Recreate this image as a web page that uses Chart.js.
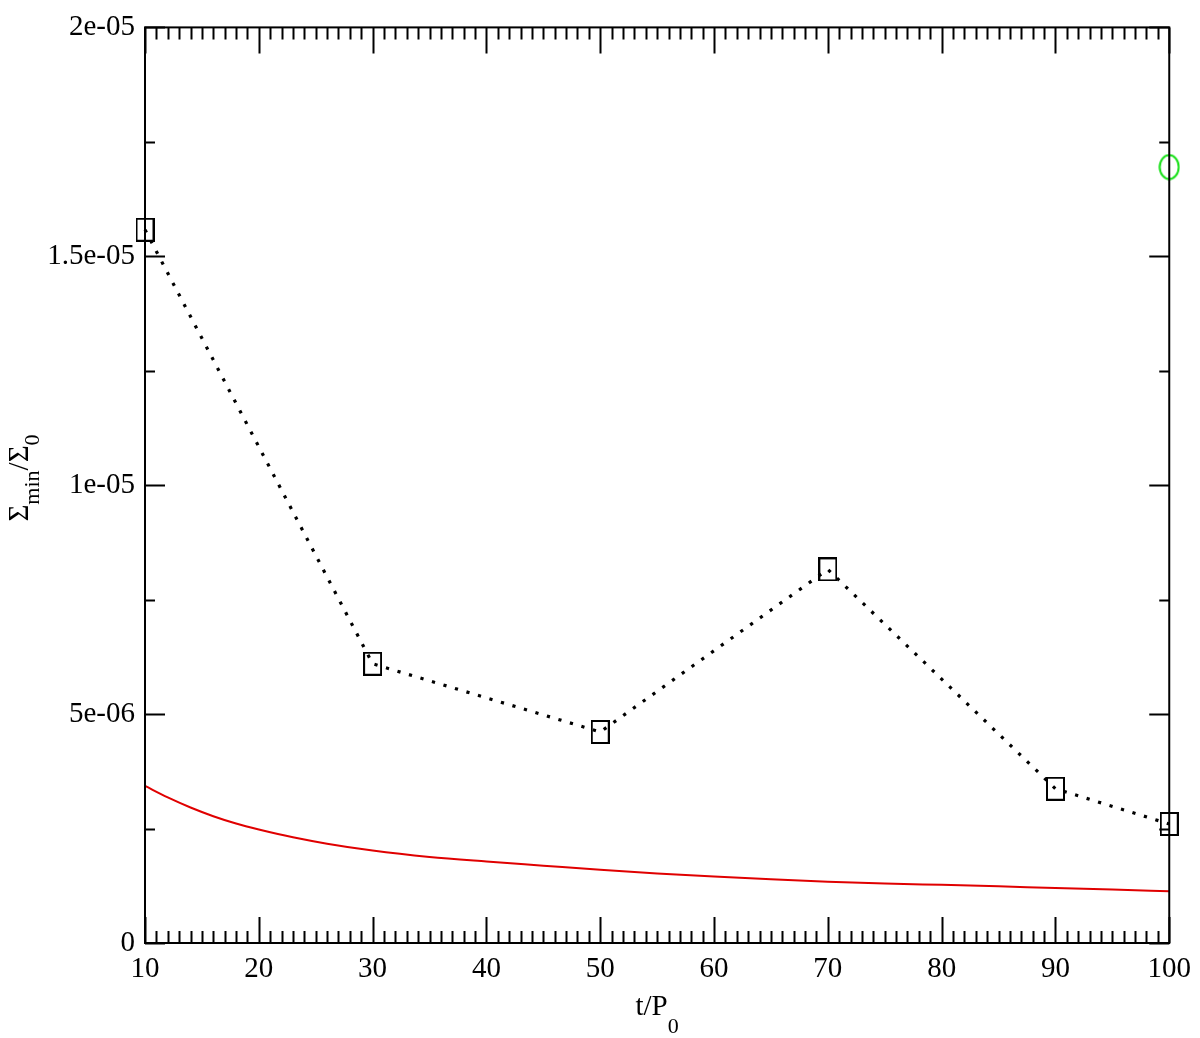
<!DOCTYPE html>
<html><head><meta charset="utf-8">
<script src="https://cdn.jsdelivr.net/npm/chart.js@4/dist/chart.umd.min.js"></script>
<style>html,body{margin:0;padding:0;background:#fff;}#wrap{width:1200px;height:1038px;}</style>
</head><body><div id="wrap"><canvas id="c" width="1200" height="1038"></canvas></div>
<script>
// ---- data ----
const simTimes = [10, 30, 50, 70, 90, 100];
const simSigmaMin = [1.558e-05, 6.10e-06, 4.61e-06, 8.16e-06, 3.37e-06, 2.60e-06];

const curveTimes = [10, 12, 14, 16, 18, 20, 23, 26, 30, 35, 40, 45, 50, 55, 60, 65, 70, 75, 80, 85, 90, 95, 100];
const curveSigma = [3.43e-06, 3.18e-06, 2.96e-06, 2.77e-06, 2.61e-06, 2.48e-06, 2.31e-06, 2.17e-06, 2.02e-06,
                    1.88e-06, 1.78e-06, 1.69e-06, 1.60e-06, 1.52e-06, 1.45e-06, 1.39e-06, 1.34e-06, 1.30e-06,
                    1.27e-06, 1.24e-06, 1.20e-06, 1.17e-06, 1.13e-06];

const extraTimes = [100];
const extraSigma = [1.695e-05];

const xTickValues = [10, 20, 30, 40, 50, 60, 70, 80, 90, 100];
const xTickLabels = ['10', '20', '30', '40', '50', '60', '70', '80', '90', '100'];
const yTickValues = [0, 5e-06, 1e-05, 1.5e-05, 2e-05];
const yTickLabels = ['0', '5e-06', '1e-05', '1.5e-05', '2e-05'];

// ---- styling helpers ----
const FONT = "'Liberation Serif', 'Times New Roman', serif";

function rectMarker(w, h, color) {
  const c = document.createElement('canvas');
  c.width = w; c.height = h;
  const g = c.getContext('2d');
  g.strokeStyle = color; g.lineWidth = 2;
  g.strokeRect(1, 1, w - 2, h - 2);
  return c;
}
function ellipseMarker(w, h, color) {
  const c = document.createElement('canvas');
  c.width = w; c.height = h;
  const g = c.getContext('2d');
  g.strokeStyle = color; g.lineWidth = 2;
  g.beginPath();
  g.ellipse(w / 2, h / 2, w / 2 - 1.5, h / 2 - 1.5, 0, 0, Math.PI * 2);
  g.stroke();
  return c;
}

const framePlugin = {
  id: 'frame',
  afterDatasetsDraw(chart) {
    const ctx = chart.ctx;
    const a = chart.chartArea;
    const xs = chart.scales.x, ys = chart.scales.y;
    ctx.save();
    ctx.strokeStyle = '#000';
    ctx.lineWidth = 2;
    ctx.lineCap = 'butt';
    ctx.strokeRect(a.left, a.top, a.right - a.left, a.bottom - a.top);
    ctx.beginPath();
    for (let v = xs.min; v <= xs.max + 1e-9; v += 1) {
      const major = xTickValues.includes(v);
      const len = major ? 26 : 12;
      const px = Math.round(xs.getPixelForValue(v)) + 0.5;
      ctx.moveTo(px, a.bottom); ctx.lineTo(px, a.bottom - len);
      ctx.moveTo(px, a.top); ctx.lineTo(px, a.top + len);
    }
    for (let i = 0; i <= 8; i++) {
      const v = i * 2.5e-06;
      const major = i % 2 === 0;
      const len = major ? 20 : 10;
      const py = Math.round(ys.getPixelForValue(v)) + 0.5;
      ctx.moveTo(a.left, py); ctx.lineTo(a.left + len, py);
      ctx.moveTo(a.right, py); ctx.lineTo(a.right - len, py);
    }
    ctx.stroke();

    ctx.fillStyle = '#000';
    ctx.textBaseline = 'alphabetic';
    ctx.textAlign = 'left';
    const mainF = '29px ' + FONT, subF = '22px ' + FONT;
    ctx.font = mainF;
    const w1 = ctx.measureText('t/P').width;
    ctx.font = subF;
    const w2 = ctx.measureText('0').width;
    const cx = (a.left + a.right) / 2;
    let x0 = cx - (w1 + w2) / 2;
    ctx.font = mainF; ctx.fillText('t/P', x0, 1015);
    ctx.font = subF; ctx.fillText('0', x0 + w1, 1033);

    const parts = [['Σ', mainF, 0], ['min', subF, 11], ['/Σ', mainF, 0], ['0', subF, 11]];
    let total = 0;
    parts.forEach(p => { ctx.font = p[1]; p.push(ctx.measureText(p[0]).width); total += p[3]; });
    ctx.translate(28, 478);
    ctx.rotate(-Math.PI / 2);
    let pos = -total / 2;
    parts.forEach(p => { ctx.font = p[1]; ctx.fillText(p[0], pos, p[2]); pos += p[3]; });
    ctx.restore();
  }
};

new Chart(document.getElementById('c'), {
  type: 'scatter',
  data: {
    datasets: [
      {
        label: 'analytic',
        data: curveTimes.map((t, i) => ({ x: t, y: curveSigma[i] })),
        showLine: true,
        borderColor: '#e00000',
        borderWidth: 2,
        pointRadius: 0,
        cubicInterpolationMode: 'monotone',
        clip: false
      },
      {
        label: 'simulation',
        data: simTimes.map((t, i) => ({ x: t, y: simSigmaMin[i] })),
        showLine: true,
        borderColor: '#000',
        borderWidth: 3.2,
        borderDash: [3.2, 8.8],
        borderCapStyle: 'butt',
        pointStyle: rectMarker(19, 24, '#000'),
        pointRadius: 10,
        clip: false
      },
      {
        label: 'extra',
        data: extraTimes.map((t, i) => ({ x: t, y: extraSigma[i] })),
        showLine: false,
        pointStyle: ellipseMarker(22, 27, '#18e018'),
        pointRadius: 12,
        clip: false
      }
    ]
  },
  options: {
    responsive: false,
    animation: false,
    events: [],
    layout: { padding: { top: 23, right: 27, left: 0, bottom: 0 } },
    plugins: { legend: { display: false }, tooltip: { enabled: false } },
    scales: {
      x: {
        type: 'linear', min: 10, max: 100,
        afterBuildTicks: s => { s.ticks = xTickValues.map(v => ({ value: v })); },
        afterFit: s => { s.height = 95; },
        grid: { display: false, drawTicks: false },
        border: { display: false },
        ticks: {
          autoSkip: false, maxRotation: 0, padding: 9, color: '#000',
          font: { family: FONT, size: 29 },
          callback: (v, i) => xTickLabels[i]
        }
      },
      y: {
        type: 'linear', min: 0, max: 2e-05,
        afterBuildTicks: s => { s.ticks = yTickValues.map(v => ({ value: v })); },
        afterFit: s => { s.width = 145; },
        grid: { display: false, drawTicks: false },
        border: { display: false },
        ticks: {
          autoSkip: false, padding: 10, color: '#000',
          font: { family: FONT, size: 29 },
          callback: (v, i) => yTickLabels[i]
        }
      }
    }
  },
  plugins: [framePlugin]
});
</script>
</body></html>
